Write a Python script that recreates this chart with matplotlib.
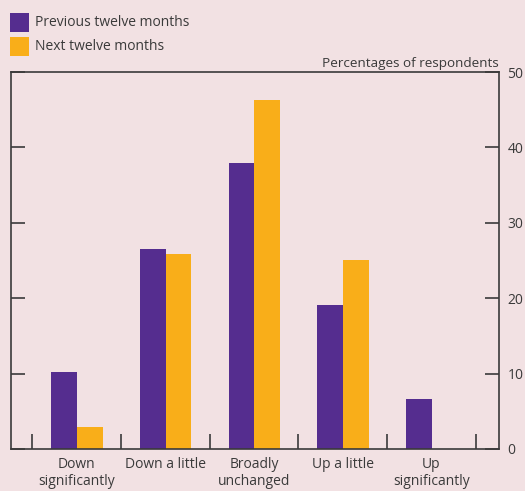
import matplotlib
matplotlib.use("Agg")
import matplotlib.pyplot as plt
from matplotlib.patches import Rectangle

categories = ["Down\nsignificantly", "Down a little", "Broadly\nunchanged", "Up a little", "Up\nsignificantly"]
previous = [10.2, 26.5, 37.9, 19.1, 6.6]
nextm = [2.9, 25.9, 46.3, 25.1, 0.0]
yticks = [0, 10, 20, 30, 40, 50]

bg = "#F2E1E3"
purple = "#552D8F"
orange = "#F9AE19"
tc = "#3a3a3a"

plt.rcParams['font.family'] = ['Open Sans', 'DejaVu Sans']

fig = plt.figure(figsize=(5.25, 4.91), dpi=100, facecolor=bg)
ax = fig.add_axes([11/525, 1-449/491, (499-11)/525, (449-72)/491])
ax.set_facecolor(bg)

x = list(range(len(categories)))
w = 0.29
ax.bar([i - w/2 + 0.005 for i in x], previous, width=w, color=purple, linewidth=0)
ax.bar([i + w/2 + 0.005 for i in x], nextm, width=w, color=orange, linewidth=0)

ax.set_xlim(-0.736, 4.76)
ax.set_ylim(0, 50)

for s in ax.spines.values():
    s.set_color(tc)
    s.set_linewidth(1.2)

ax.set_xticks(x)
ax.set_xticklabels(categories, fontsize=10, color=tc, linespacing=1.15)
ax.set_xticks([i - 0.5 for i in range(len(categories) + 1)], minor=True)
ax.tick_params(axis='x', which='major', length=0, pad=6)
ax.tick_params(axis='x', which='minor', direction='in', length=11, width=1.2, color=tc)

ax.set_yticks(yticks)
ax.set_yticklabels([str(v) for v in yticks])
ax.tick_params(axis='y', which='major', direction='in', length=10, width=1.2, color=tc,
               left=True, right=True, labelleft=False, labelright=True,
               labelsize=10, labelcolor=tc, pad=6)

ax.text(1.0, 1.005, "Percentages of respondents", transform=ax.transAxes,
        ha='right', va='bottom', fontsize=9.7, color=tc)

# legend
fig.patches.append(Rectangle((10/525, 1-32/491), 19/525, 19/491, transform=fig.transFigure,
                             facecolor=purple, edgecolor='none'))
fig.patches.append(Rectangle((10/525, 1-56/491), 19/525, 19/491, transform=fig.transFigure,
                             facecolor=orange, edgecolor='none'))
fig.text(35/525, 1-22/491, "Previous twelve months", fontsize=10, color=tc, va='center')
fig.text(35/525, 1-46/491, "Next twelve months", fontsize=10, color=tc, va='center')

fig.savefig("out.png", dpi=100, facecolor=bg)
